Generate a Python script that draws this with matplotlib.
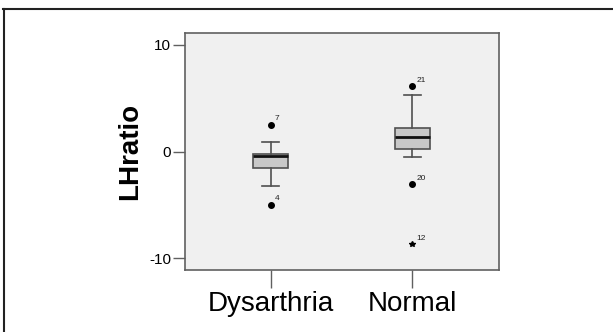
import matplotlib
matplotlib.use("Agg")
import matplotlib.pyplot as plt
from matplotlib.patches import Rectangle
from matplotlib.lines import Line2D

plt.rcParams['font.family'] = ['Liberation Sans', 'DejaVu Sans']

categories = ["Dysarthria", "Normal"]
# box statistics
q1 = [-1.54, 0.19]
medians = [-0.41, 1.35]
q3 = [-0.22, 2.23]
whislo = [-3.24, -0.47]
whishi = [0.85, 5.28]
# outliers (circles) and extremes (stars), with case labels
outlier_vals = [[2.52, -4.97], [6.1, -3.05]]
outlier_ids = [["7", "4"], ["21", "20"]]
extreme_vals = [[], [-8.7]]
extreme_ids = [[], ["12"]]
yticks = [-10, 0, 10]

fig = plt.figure(figsize=(6.13, 3.32), dpi=100)
ax = fig.add_axes([185/613, (332-270)/332, (499-185)/613, (270-33)/332])
ax.set_facecolor('#F0F0F0')

stats = []
for i, c in enumerate(categories):
    stats.append(dict(label=c, q1=q1[i], med=medians[i], q3=q3[i],
                      whislo=whislo[i], whishi=whishi[i], fliers=[]))
pos = [1, 2]
ax.bxp(stats, positions=pos, widths=0.247, patch_artist=True, showfliers=False,
       boxprops=dict(facecolor='#C8C8C8', edgecolor='#505050', linewidth=1.2),
       medianprops=dict(color='#111111', linewidth=2),
       whiskerprops=dict(color='#505050', linewidth=1.2),
       capprops=dict(color='#505050', linewidth=1.2),
       capwidths=0.12)

for i, p in enumerate(pos):
    for v, lab in zip(outlier_vals[i], outlier_ids[i]):
        ax.plot(p, v, 'o', color='black', markersize=4)
        ax.annotate(lab, (p, v), xytext=(3, 3), textcoords='offset points',
                    fontsize=6, color='#222222')
    for v, lab in zip(extreme_vals[i], extreme_ids[i]):
        ax.plot(p, v, '*', color='black', markersize=4)
        ax.annotate(lab, (p, v), xytext=(3, 3), textcoords='offset points',
                    fontsize=6, color='#222222')

ax.set_xlim(0.395, 2.612)
ax.set_ylim(-11.1, 11.1)
ax.set_yticks(yticks)
ax.set_yticklabels([str(t) for t in yticks], fontsize=11)
ax.set_xticks(pos)
ax.set_xticklabels(categories, fontsize=20)
ax.tick_params(axis='x', length=13, color='#606060', width=1, pad=2)
ax.tick_params(axis='y', length=9, color='#606060', width=1, pad=1)
ax.set_ylabel('LHratio', fontsize=20, fontweight='bold', labelpad=4)
for s in ax.spines.values():
    s.set_color('#606060')
    s.set_linewidth(1.2)

# outer frame (top and left visible)
fig.add_artist(Line2D([3/613, 1.0], [1-8.5/332, 1-8.5/332], transform=fig.transFigure,
                      color='#222222', linewidth=1.5))
fig.add_artist(Line2D([3.5/613, 3.5/613], [0.0, 1-8.5/332], transform=fig.transFigure,
                      color='#222222', linewidth=1.5))

fig.savefig('out.png', dpi=100, facecolor='white')
